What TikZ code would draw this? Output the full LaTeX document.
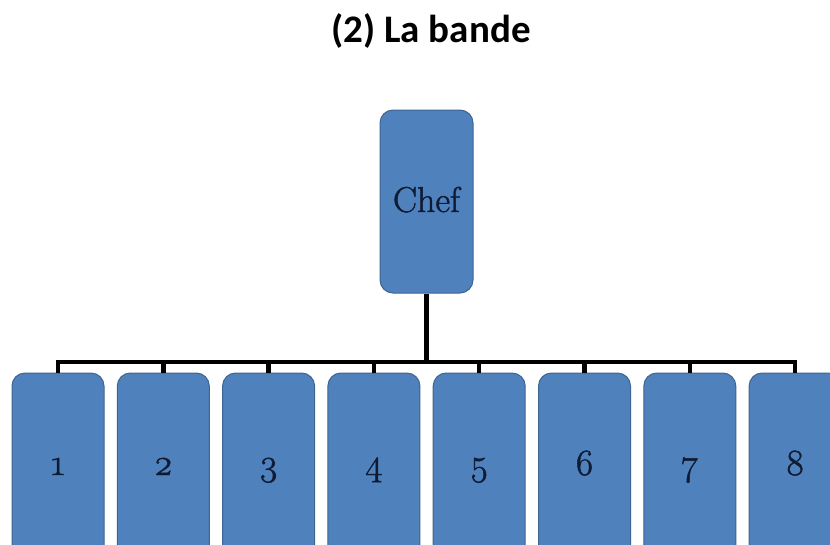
\documentclass[tikz,border=0pt]{standalone}
\usepackage{fontspec}
\setmainfont{Latin Modern Roman}[Numbers=OldStyle]
\newfontfamily\tagfont{Latin Modern Roman}[Numbers=OldStyle, RawFeature={embolden=1.3}]
\newfontfamily\titlefont{Carlito}
\usetikzlibrary{calc}
\definecolor{boxblue}{HTML}{4F81BD}
\definecolor{boxedge}{HTML}{3E6592}
\definecolor{labelnavy}{HTML}{0F1B33}
\tikzset{
  member/.style={draw=boxedge, line width=1pt, fill=boxblue, rounded corners=13pt,
    minimum width=92pt, minimum height=188pt, inner sep=0pt},
  tag/.style={text=labelnavy, inner sep=0pt, anchor=base, font=\tagfont\fontsize{37}{40}\selectfont},
  link/.style={line width=4.5pt, black}
}
\begin{document}
\begin{tikzpicture}[x=1pt,y=-1pt]
  \useasboundingbox (0,0) rectangle (830,544);
  \clip (0,0) rectangle (830,544);
  \fill[white] (0,0) rectangle (830,544);

  \node[font=\titlefont\bfseries\fontsize{39}{44}\selectfont, inner sep=0pt] (title) at (431,31) {(2) La bande};

  \node[member, minimum width=93pt, minimum height=183pt] (chef) at (426.5,201.5) {};
  \node[tag, font=\tagfont\fontsize{36}{40}\selectfont] (cheflabel) at (426.5,212) {Chef};

  \foreach \i in {1,...,8} {
    \node[member] (b\i) at ({58+105.3*(\i-1)},467) {};
    \node[tag] (l\i) at ($(b\i.center)+(0,8)$) {\i};
  }

  \coordinate (bar) at (426.5,362);
  \draw[link] (chef.south) -- (chef.south |- bar);
  \draw[link] ([xshift=-2.25pt]b1.north |- bar) -- ([xshift=2.25pt]b8.north |- bar);
  \foreach \i in {1,...,8} {
    \draw[link] (b\i.north) -- (b\i.north |- bar);
  }
\end{tikzpicture}
\end{document}
